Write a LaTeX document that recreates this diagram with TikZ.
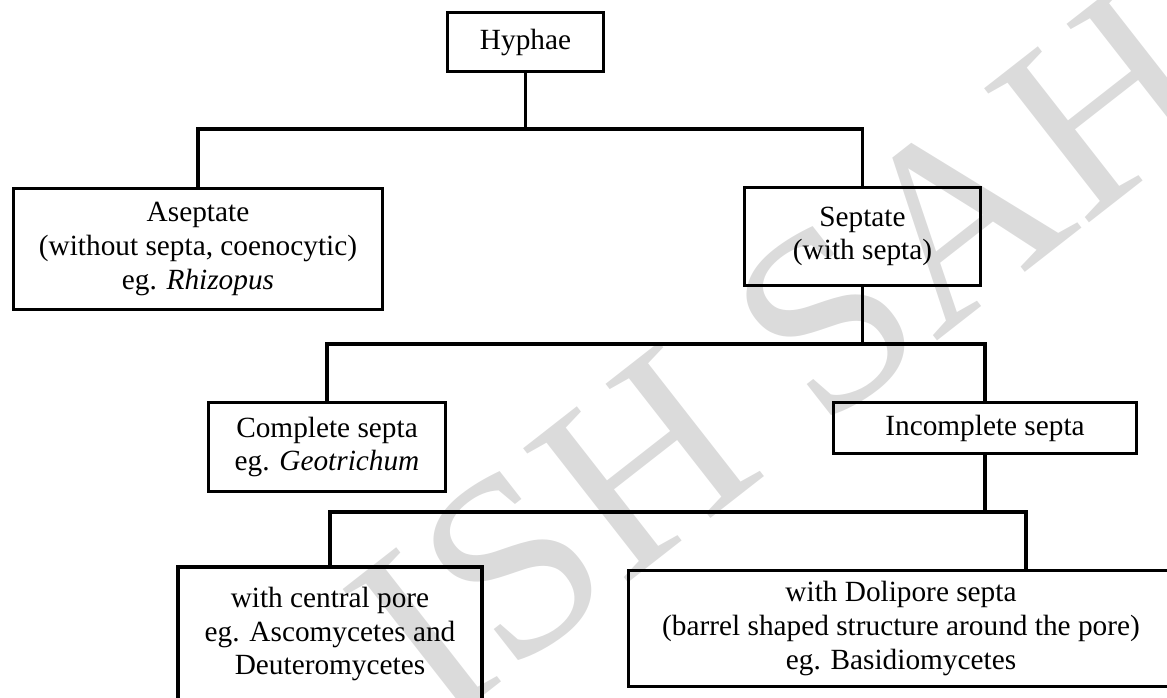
\documentclass[tikz,border=0pt]{standalone}
\usepackage{fontspec}
\setmainfont{Liberation Serif}
\begin{document}
\begin{tikzpicture}[x=1pt,y=-1pt,
  box/.style={draw, line width=3.2pt, align=center, inner sep=0pt,
    font=\fontsize{29.3}{33.7}\selectfont},
  conn/.style={line width=3.2pt},
  wmark/.style={text=black!14, font=\fontsize{260}{260}\selectfont, inner sep=0pt}]
\useasboundingbox (0,0) rectangle (1167,698);
\clip (0,0) rectangle (1167,698);
\node[wmark, anchor=base west, rotate=38] (wm) at (440,730) {ISH SAH};
\node[box, minimum width=156pt, minimum height=59pt] (hyphae) at (525.5,42) {Hyphae};
\node[box, minimum width=369pt, minimum height=121pt] (aseptate) at (198,249)
  {Aseptate\\(without septa, coenocytic)\\eg. \textit{Rhizopus}};
\node[box, minimum width=236pt, minimum height=98pt] (septate) at (862.5,236.5)
  {Septate\\(with septa)};
\node[box, minimum width=237pt, minimum height=89pt] (complete) at (327,447)
  {Complete septa\\eg. \textit{Geotrichum}};
\node[box, minimum width=303pt, minimum height=51pt] (incomplete) at (985,428)
  {Incomplete septa};
\node[box, minimum width=304pt, minimum height=134pt] (central) at (330,634)
  {with central pore\\eg. Ascomycetes and\\Deuteromycetes};
\node[box, minimum width=545pt, minimum height=116pt] (dolipore) at (901,628.5)
  {with Dolipore septa\\(barrel shaped structure around the pore)\\eg. Basidiomycetes};
\coordinate (y1) at (0,129);
\coordinate (y2) at (0,344);
\coordinate (y3) at (0,512);
\coordinate (dx) at (1026,0);
\coordinate (j1) at (hyphae.south |- y1);
\coordinate (j2) at (septate.south |- y2);
\coordinate (j3) at (incomplete.south |- y3);
\draw[conn] (hyphae.south) -- (j1);
\draw[conn] (aseptate.north) |- (j1) -| (septate.north);
\draw[conn] (septate.south) -- (j2);
\draw[conn] (complete.north) |- (j2) -| (incomplete.north);
\draw[conn] (incomplete.south) -- (j3);
\draw[conn] (central.north) |- (j3) -| (dolipore.north -| dx);
\end{tikzpicture}
\end{document}
